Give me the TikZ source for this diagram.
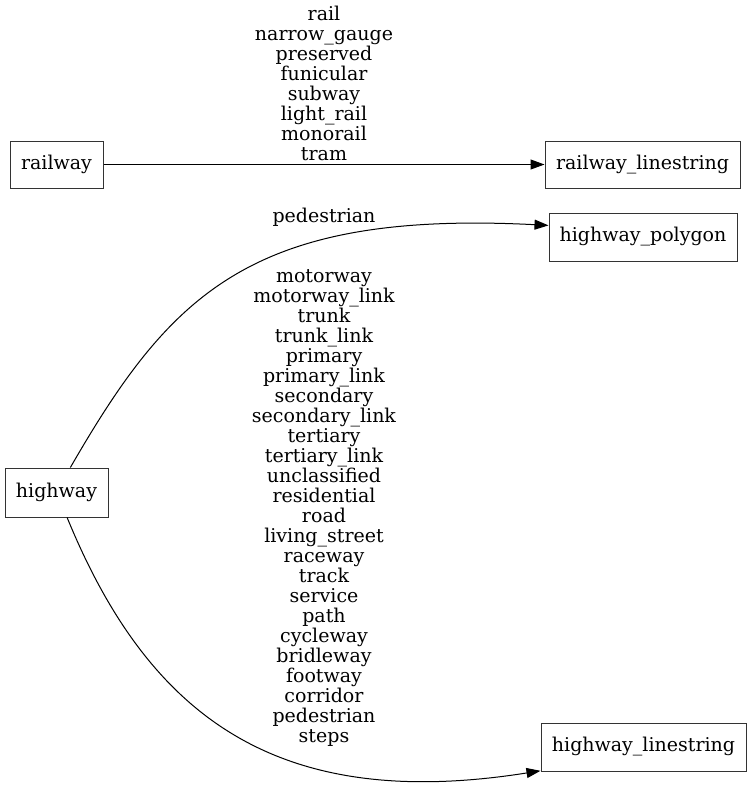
\documentclass[tikz,border=0pt]{standalone}
\usepackage{fontspec}
\setmainfont{DejaVu Serif}
\usetikzlibrary{arrows.meta}
\begin{document}
\begin{tikzpicture}[x=1pt,y=-1pt,
  box/.style={draw=black!80, line width=1pt, fill=white, inner sep=0pt, font=\fontsize{19}{20}\selectfont},
  lbl/.style={align=center, inner sep=0pt, anchor=base, font=\fontsize{19}{20}\selectfont},
  edge/.style={line width=1pt, -{Triangle[length=14pt,width=10pt]}}]
\useasboundingbox (0,0) rectangle (751,787);
\node[box, minimum width=93pt, minimum height=47pt] (railway) at (56.5,164.5) {railway};
\node[box, minimum width=195pt, minimum height=47pt] (rls) at (642.5,164.5) {railway\_linestring};
\node[box, minimum width=188pt, minimum height=48pt] (hpoly) at (643,237) {highway\_polygon};
\node[box, minimum width=103pt, minimum height=49pt] (highway) at (56.5,492.5) {highway};
\node[box, minimum width=205pt, minimum height=48pt] (hls) at (643.5,747) {highway\_linestring};

\node[lbl] (lrail) at (324,160.5) {rail\\narrow\_gauge\\preserved\\funicular\\subway\\light\_rail\\monorail\\tram};
\node[lbl] (lped) at (324,222.5) {pedestrian};
\node[lbl] (lhls) at (324,742.5) {motorway\\motorway\_link\\trunk\\trunk\_link\\primary\\primary\_link\\secondary\\secondary\_link\\tertiary\\tertiary\_link\\unclassified\\residential\\road\\living\_street\\raceway\\track\\service\\path\\cycleway\\bridleway\\footway\\corridor\\pedestrian\\steps};

\draw[edge] (railway.east) -- (rls.west);
\draw[edge] (highway.61) .. controls (170,295) and (250,210) .. (hpoly.173);
\draw[edge] (highway.-67) .. controls (150,720) and (280,812) .. (hls.193);
\end{tikzpicture}
\end{document}
